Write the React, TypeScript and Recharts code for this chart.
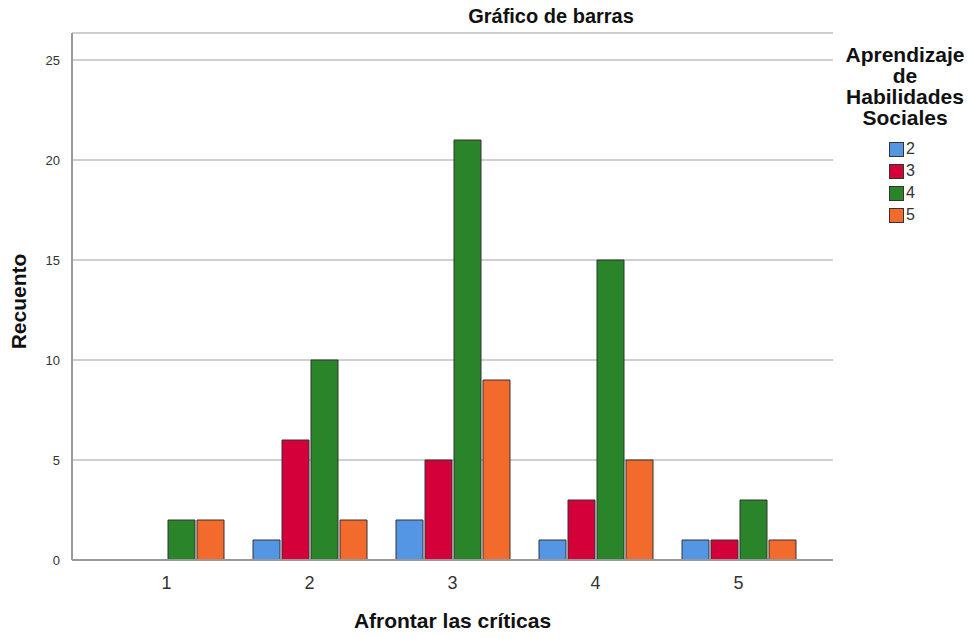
import { BarChart, Bar, XAxis, YAxis, CartesianGrid } from 'recharts'

const categories = ['1', '2', '3', '4', '5']
const serie2 = [0, 1, 2, 1, 1]
const serie3 = [0, 6, 5, 3, 1]
const serie4 = [2, 10, 21, 15, 3]
const serie5 = [2, 2, 9, 5, 1]
const yTicks = [0, 5, 10, 15, 20, 25]

const seriesInfo = [
  { key: 's2', name: '2', color: '#5596E4' },
  { key: 's3', name: '3', color: '#D4003A' },
  { key: 's4', name: '4', color: '#2A842A' },
  { key: 's5', name: '5', color: '#F26A2C' },
]

const data = categories.map((c, i) => ({
  cat: c,
  s2: serie2[i],
  s3: serie3[i],
  s4: serie4[i],
  s5: serie5[i],
}))

const font = 'Arial, "Liberation Sans", sans-serif'

function LegendBox() {
  return (
    <div style={{ fontFamily: font, textAlign: 'center', width: 130 }}>
      <div style={{ fontWeight: 'bold', fontSize: 21, lineHeight: '21px', color: '#111' }}>
        Aprendizaje<br />de<br />Habilidades<br />Sociales
      </div>
      <div style={{ marginTop: 10, marginRight: 6, display: 'inline-block', textAlign: 'left' }}>
        {seriesInfo.map((s) => (
          <div key={s.key} style={{ display: 'flex', alignItems: 'center', height: 22 }}>
            <span style={{ width: 13, height: 13, background: s.color, border: '1px solid #333', display: 'inline-block' }} />
            <span style={{ fontSize: 16, color: '#333', marginLeft: 2 }}>{s.name}</span>
          </div>
        ))}
      </div>
    </div>
  )
}

export default function App() {
  return (
    <div style={{ position: 'absolute', left: 0, top: 0, width: 969, height: 637, background: '#fff', fontFamily: font }}>
      <div style={{ position: 'absolute', left: 0, width: 1102, top: 5, textAlign: 'center', fontWeight: 'bold', fontSize: 20, color: '#111' }}>
        Gráfico de barras
      </div>
      <div style={{ position: 'absolute', left: 840, top: 44 }}>
        <LegendBox />
      </div>
      <BarChart
        width={969}
        height={637}
        data={data}
        margin={{ top: 33, right: 136, bottom: 47, left: 32 }}
        barSize={27}
        barGap={2}
      >
        <CartesianGrid horizontal vertical={false} stroke="#cfcfcf" strokeWidth={2} />
        <XAxis
          dataKey="cat"
          height={30}
          padding={{ left: 23, right: 23 }}
          axisLine={{ stroke: '#999', strokeWidth: 2 }}
          tickLine={false}
          tick={{ fontSize: 18, fill: '#333', fontFamily: font }}
          tickMargin={10}
          label={{ value: 'Afrontar las críticas', position: 'insideBottom', offset: -38, fontSize: 21, fontWeight: 'bold', fill: '#111', fontFamily: font }}
        />
        <YAxis
          width={40}
          domain={[0, 26.35]}
          ticks={yTicks}
          axisLine={{ stroke: '#999', strokeWidth: 2 }}
          tickLine={false}
          tick={{ fontSize: 13, fill: '#333', fontFamily: font }}
          tickMargin={6}
          label={{ value: 'Recuento', angle: -90, position: 'insideLeft', offset: -13, dy: 5, fontSize: 21, fontWeight: 'bold', fill: '#111', fontFamily: font, style: { textAnchor: 'middle' } }}
        />
        {seriesInfo.map((s) => (
          <Bar key={s.key} dataKey={s.key} name={s.name} fill={s.color} stroke="#333" strokeWidth={1} isAnimationActive={false} />
        ))}
      </BarChart>
    </div>
  )
}
